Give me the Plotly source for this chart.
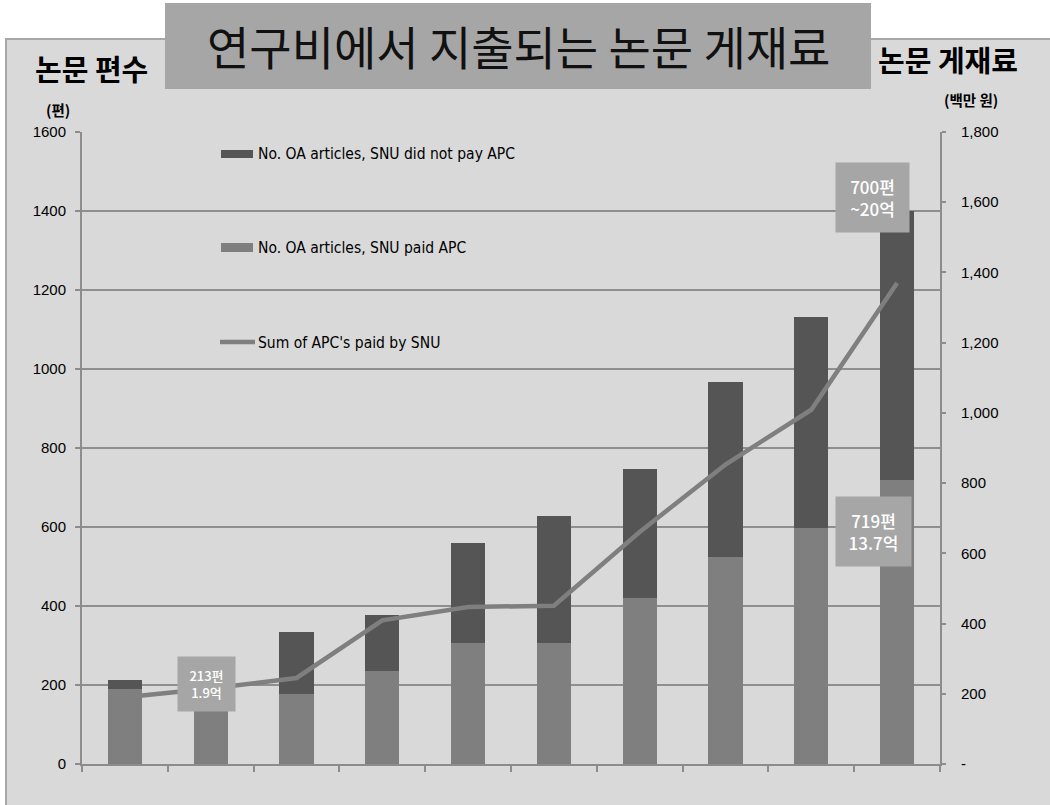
import plotly.graph_objects as go

# Open-access articles per year, split by whether SNU paid the APC (left axis, 편)
paid_apc = [190, 200, 178, 236, 307, 306, 421, 523, 598, 719]
unpaid_apc = [23, 40, 156, 141, 253, 322, 327, 443, 533, 681]
# Total APC spend (right axis, 백만 원)
apc_sum = [190, 215, 245, 409, 447, 451, 661, 853, 1009, 1370]

left_ticks = list(range(0, 1601, 200))
right_ticks = list(range(0, 1801, 200))
right_tick_text = ["-" if v == 0 else f"{v:,}" for v in right_ticks]

W, H = 1050, 805
L, R, T, B = 82, 110, 132, 41
PW, PH = W - L - R, H - T - B

PANEL = "#d9d9d9"
BOX = "#a6a6a6"
DARK = "#555555"
MID = "#7f7f7f"
AXIS = "#8c8c8c"
KR = "Noto Sans CJK KR, Noto Sans, sans-serif"
NARROW = "Liberation Sans Narrow, Arial Narrow, DejaVu Sans Condensed, sans-serif"
ARIAL = "Liberation Sans, Arial, sans-serif"


def fx(px):
    return (px - L) / PW


def fy(py):
    return (H - B - py) / PH


def label(text, px, py, size, family=KR, color="#000000", xanchor="center",
          weight="normal", **extra):
    return dict(text=text, xref="paper", yref="paper", x=fx(px), y=fy(py),
                xanchor=xanchor, yanchor="middle", showarrow=False,
                font=dict(family=family, size=size, color=color, weight=weight), **extra)


slots = [i + 0.5 for i in range(len(paid_apc))]

fig = go.Figure()
fig.add_trace(go.Bar(x=slots, y=paid_apc, marker_color=MID, marker_line_width=0,
                     name="No. OA articles, SNU paid APC"))
fig.add_trace(go.Bar(x=slots, y=unpaid_apc, marker_color=DARK, marker_line_width=0,
                     name="No. OA articles, SNU did not pay APC"))
fig.add_trace(go.Scatter(x=slots, y=apc_sum, yaxis="y2", mode="lines",
                         line=dict(color=MID, width=4.5),
                         name="Sum of APC's paid by SNU"))

shapes = [
    # grey panel behind the chart
    dict(type="rect", xref="paper", yref="paper", x0=fx(6), x1=fx(1060), y0=fy(39), y1=fy(815),
         fillcolor=PANEL, line=dict(color="#a8a8a8", width=2), layer="below"),
    # title banner
    dict(type="rect", xref="paper", yref="paper", x0=fx(165), x1=fx(871), y0=fy(89), y1=fy(3),
         fillcolor=BOX, line=dict(width=0), layer="below"),
    # legend swatches
    dict(type="rect", xref="paper", yref="paper", x0=fx(221), x1=fx(253), y0=fy(158), y1=fy(150),
         fillcolor=DARK, line=dict(width=0)),
    dict(type="rect", xref="paper", yref="paper", x0=fx(221), x1=fx(253), y0=fy(252), y1=fy(243),
         fillcolor=MID, line=dict(width=0)),
    dict(type="line", xref="paper", yref="paper", x0=fx(220), x1=fx(255), y0=fy(342), y1=fy(342),
         line=dict(color=MID, width=4.5)),
]

annotations = [
    label("연구비에서 지출되는 논문 게재료", 518, 45, 46, color="#111111"),
    label("<b>논문 편수</b>", 91, 68, 29),
    label("<b>(편)</b>", 58, 109, 14.5),
    label("<b>논문 게재료</b>", 948, 59, 29),
    label("<b>(백만 원)</b>", 971, 100, 14.5),
    # legend labels
    label("No. OA articles, SNU did not pay APC", 256, 154, 15.5, family=NARROW, xanchor="left"),
    label("No. OA articles, SNU paid APC", 256, 248, 15.5, family=NARROW, xanchor="left"),
    label("Sum of APC's paid by SNU", 256, 343, 15.5, family=NARROW, xanchor="left"),
    # callout boxes
    label("213편<br>1.9억", 206.5, 684, 13, color="#ffffff", weight=500,
          bgcolor=BOX, width=57, height=54, borderpad=0),
    label("700편<br>~20억", 872.5, 197.5, 17, color="#ffffff", weight=500,
          bgcolor=BOX, width=73, height=69, borderpad=0),
    label("719편<br>13.7억", 873.5, 531.5, 17, color="#ffffff", weight=500,
          bgcolor=BOX, width=75, height=69, borderpad=0),
]

fig.update_layout(
    width=W, height=H,
    margin=dict(l=L, r=R, t=T, b=B, pad=0),
    paper_bgcolor="#ffffff",
    plot_bgcolor="rgba(0,0,0,0)",
    barmode="stack",
    bargap=0.6,
    showlegend=False,
    shapes=shapes,
    annotations=annotations,
    xaxis=dict(range=[0, len(paid_apc)], tickvals=list(range(len(paid_apc) + 1)),
               showticklabels=False, ticks="outside", ticklen=6, tickwidth=1.5,
               tickcolor=AXIS, showgrid=False, zeroline=False,
               showline=True, linecolor=AXIS, linewidth=2),
    yaxis=dict(range=[0, 1600], tickvals=left_ticks, ticks="outside", ticklen=5,
               tickwidth=1.5, tickcolor=AXIS, showgrid=True, gridcolor="#8f8f8f",
               gridwidth=1.5, zeroline=False, showline=True, linecolor=AXIS, linewidth=2,
               tickfont=dict(family=ARIAL, size=15, color="#000000"), ticklabelstandoff=6),
    yaxis2=dict(range=[0, 1800], tickvals=right_ticks, ticktext=right_tick_text,
                overlaying="y", side="right", ticks="outside", ticklen=4, tickwidth=1.5,
                tickcolor=AXIS, showgrid=False, zeroline=False, showline=True,
                linecolor=AXIS, linewidth=2,
                tickfont=dict(family=ARIAL, size=15, color="#000000"), ticklabelstandoff=12),
)

fig.write_html("out.html")
